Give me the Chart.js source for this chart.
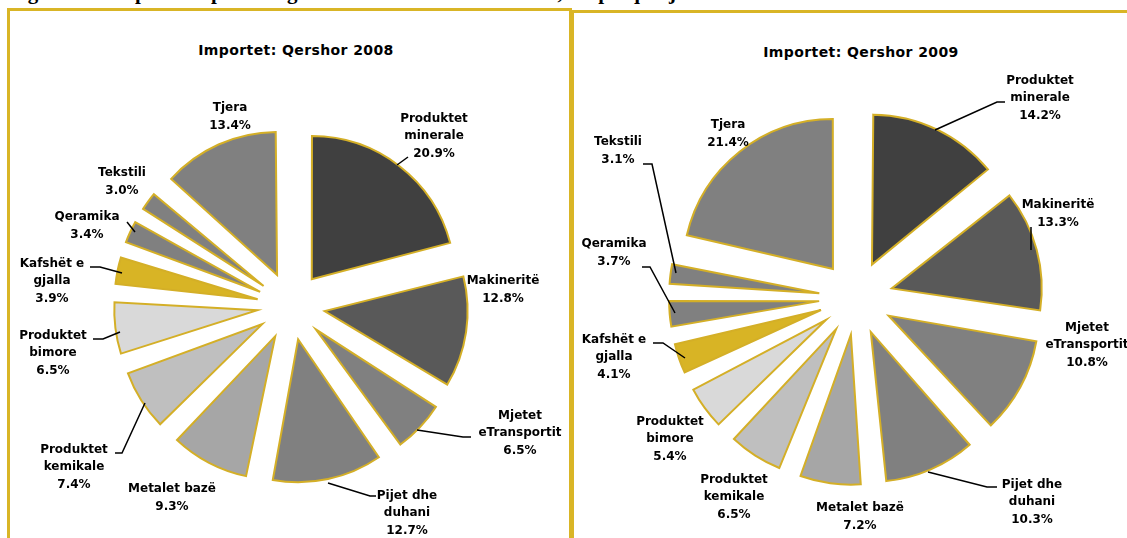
<!DOCTYPE html>
<html>
<head>
<meta charset="utf-8">
<script src="https://cdn.jsdelivr.net/npm/chart.js@4.4.0/dist/chart.umd.min.js"></script>
<style>
  body { margin: 0; width: 1127px; height: 538px; overflow: hidden; background: #fff; position: relative; }
  .caption { position: absolute; left: 9px; top: -18px; font: bold 21px/21px "Liberation Serif", serif; word-spacing: 2px; white-space: nowrap; color: #000; }
  .frame { position: absolute; border: 3px solid #D9B526; box-sizing: border-box; }
  #frame1 { left: 7px; top: 8px; width: 565px; height: 570px; }
  #frame2 { left: 571px; top: 10px; width: 600px; height: 570px; }
  .ttl { position: absolute; transform: translate(-50%, -50%); font: bold 14px "DejaVu Sans"; letter-spacing: 0.4px; white-space: nowrap; color: #000; }
  canvas { position: absolute; }
  #pie2008 { left: 7px; top: 56px; }
  #pie2009 { left: 580px; top: 42px; }
</style>
</head>
<body>
<div class="caption">Figura 11. Importet sipas kategorive të mallrave të Kosovës, në përqindje</div>
<div class="frame" id="frame1"></div>
<div class="frame" id="frame2"></div>
<div class="ttl" id="ttl2008" style="left:296px; top:50px;"></div>
<div class="ttl" id="ttl2009" style="left:861px; top:52px;"></div>
<canvas id="pie2008" width="568" height="500"></canvas>
<canvas id="pie2009" width="552" height="512"></canvas>
<script>
// te dhenat
const categories = [
  ['Produktet', 'minerale'], ['Makineritë'], ['Mjetet', 'eTransportit'], ['Pijet dhe', 'duhani'],
  ['Metalet bazë'], ['Produktet', 'kemikale'], ['Produktet', 'bimore'], ['Kafshët e', 'gjalla'],
  ['Qeramika'], ['Tekstili'], ['Tjera']
];
const shares2008 = [20.9, 12.8, 6.5, 12.7, 9.3, 7.4, 6.5, 3.9, 3.4, 3.0, 13.4];
const shares2009 = [14.2, 13.3, 10.8, 10.3, 7.2, 6.5, 5.4, 4.1, 3.7, 3.1, 21.4];
const titles = ['Importet: Qershor 2008', 'Importet: Qershor 2009'];

const sliceColors = ['#404040', '#595959', '#808080', '#808080', '#A6A6A6', '#BFBFBF',
  '#D9D9D9', '#D8B425', '#808080', '#808080', '#808080'];
const gold = '#D4AF27';

// vendosja e etiketave (pixel nga qendra e pites)
const labels2008 = [[143, -170], [212, -16], [229, 127], [116, 207], [-119, 192], [-217, 161],
  [-238, 47], [-239, -25], [-204, -80], [-169, -124], [-61, -189]];
const leaders2008 = [
  [[106, -141], [117, -149]], null, [[126, 124], [172, 131], [180, 131]], [[37, 177], [79, 190], [85, 190]],
  null, [[-146, 97], [-169, 147], [-176, 147]], [[-171, 26], [-188, 33], [-198, 33]],
  [[-169, -33], [-191, -39], [-201, -39]], [[-156, -74], [-164, -84]], null, null
];
const labels2009 = [[184, -200], [202, -84], [231, 47], [176, 204], [4, 219], [-122, 199],
  [-186, 141], [-242, 59], [-242, -45], [-238, -147], [-128, -164]];
const leaders2009 = [
  [[79, -168], [141, -196], [149, -196]], [[175, -48], [175, -71]], null, [[72, 174], [131, 189], [141, 189]],
  null, null, null, [[-171, 60], [-193, 45], [-203, 45]], [[-181, 15], [-206, -31], [-214, -31]],
  [[-180, -25], [-204, -134], [-213, -134]], null
];

document.getElementById('ttl2008').textContent = titles[0];
document.getElementById('ttl2009').textContent = titles[1];

// Chart.js rrit rrezen e pjeseve te vogla kur ka offset, e kthejme mbrapsht
const keepRadius = {
  id: 'keepRadius',
  beforeDatasetsDraw(chart) {
    const R = chart.options.radius;
    chart.getDatasetMeta(0).data.forEach(arc => {
      const shift = (arc.options.offset || 0) / 4;
      const fix = 1 - Math.sin(Math.min(Math.PI, arc.circumference));
      arc.outerRadius = R - shift * fix;
    });
  }
};

const sliceLabels = {
  id: 'sliceLabels',
  afterDatasetsDraw(chart, args, opts) {
    const ctx = chart.ctx;
    const arcs = chart.getDatasetMeta(0).data;
    const cx = arcs[0].x;
    const cy = arcs[0].y;
    const values = chart.data.datasets[0].data;

    ctx.save();
    ctx.strokeStyle = '#000';
    ctx.lineWidth = 1.5;
    opts.leaders.forEach(pts => {
      if (!pts) return;
      ctx.beginPath();
      pts.forEach((p, k) => k ? ctx.lineTo(cx + p[0], cy + p[1]) : ctx.moveTo(cx + p[0], cy + p[1]));
      ctx.stroke();
    });

    ctx.fillStyle = '#000';
    ctx.font = 'bold 12px "DejaVu Sans"';
    ctx.textAlign = 'center';
    ctx.textBaseline = 'middle';
    chart.data.labels.forEach((name, i) => {
      const lines = name.concat(values[i].toFixed(1) + '%');
      const [dx, dy] = opts.positions[i];
      lines.forEach((ln, k) => {
        ctx.fillText(ln, cx + dx, cy + dy + (k - (lines.length - 1) / 2) * 17.5);
      });
    });
    ctx.restore();
  }
};

function vizatoPiten(id, values, radius, explode, positions, leaders) {
  new Chart(document.getElementById(id), {
    type: 'pie',
    data: {
      labels: categories,
      datasets: [{
        data: values,
        backgroundColor: sliceColors,
        borderColor: gold,
        borderWidth: 2,
        borderJoinStyle: 'miter',
        offset: explode * 4,
      }],
    },
    options: {
      responsive: false,
      animation: false,
      events: [],
      radius: radius,
      layout: { padding: 0 },
      plugins: {
        legend: { display: false },
        tooltip: { enabled: false },
        sliceLabels: { positions: positions, leaders: leaders },
      },
    },
    plugins: [keepRadius, sliceLabels],
  });
}

vizatoPiten('pie2008', shares2008, 143, 34, labels2008, leaders2008);
vizatoPiten('pie2009', shares2009, 150, 37, labels2009, leaders2009);
</script>
</body>
</html>
